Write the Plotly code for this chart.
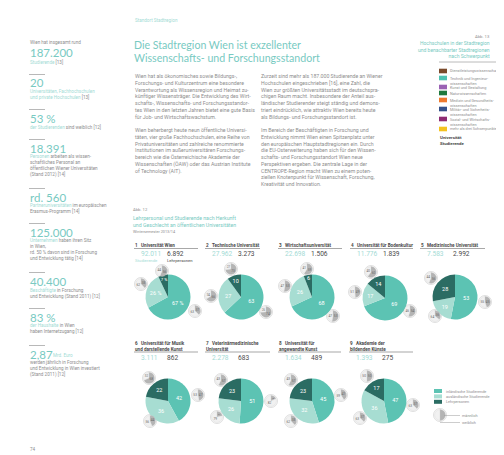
import plotly.graph_objects as go

W, H = 504, 455

# ---- data read from the page ----
uni_nr = ["1", "2", "3", "4", "5", "6", "7", "8", "9"]
uni_names = ["Universität Wien", "Technische Universität", "Wirtschaftsuniversität",
             "Universität für Bodenkultur", "Medizinische Universität",
             "Universität für Musik<br>und darstellende Kunst", "Veterinärmedizinische<br>Universität",
             "Universität für<br>angewandte Kunst", "Akademie der<br>bildenden Künste"]
studierende = ["92.011", "27.962", "22.698", "11.776", "7.583", "3.111", "2.278", "1.634", "1.393"]
lehrpersonen = ["6.892", "3.273", "1.506", "1.839", "2.992", "862", "683", "489", "275"]

slice_names = ["inländische Studierende", "ausländische Studierende", "Lehrpersonen"]
inland = [67, 63, 68, 69, 53, 42, 51, 45, 47]
ausland = [26, 27, 26, 17, 19, 36, 26, 32, 36]
lehr = [7, 10, 6, 14, 28, 22, 23, 23, 17]

gender_names = ["männlich", "weiblich"]
w_inland = [63, 26, 47, 46, 55, 53, 82, 59, 63]
m_inland = [37, 74, 53, 54, 45, 47, 18, 41, 37]
w_ausland = [62, 34, 47, 51, 64, 56, 79, 62, 63]
m_ausland = [38, 66, 53, 49, 36, 44, 21, 38, 37]
w_lehr = [44, 27, 41, 40, 44, 32, 43, 43, 50]
m_lehr = [56, 73, 59, 60, 56, 68, 57, 57, 50]
legend_gender = [50, 50]

stat_blocks = [
    ("Wien hat insgesamt rund", "187.200", "<span style='color:#a3dbd5'>Studierende</span> [13]"),
    (None, "20", "<span style='color:#a3dbd5'>Universitäten, Fachhochschulen<br>und private Hochschulen</span> [13]"),
    (None, "53 %", "<span style='color:#a3dbd5'>der Studierenden</span> sind weiblich [12]"),
    (None, "18.391", "<span style='color:#a3dbd5'>Personen</span> arbeiten als wissen-<br>schaftliches Personal an<br>öffentlichen Wiener Universitäten<br>(Stand 2012) [14]"),
    (None, "rd. 560", "<span style='color:#a3dbd5'>Partneruniversitäten</span> im europäischen<br>Erasmus-Programm [14]"),
    (None, "125.000", "<span style='color:#a3dbd5'>Unternehmen</span> haben ihren Sitz<br>in Wien,<br>rd. 50 % davon sind in Forschung<br>und Entwicklung tätig [14]"),
    (None, "40.400", "<span style='color:#a3dbd5'>Beschäftigte</span> in Forschung<br>und Entwicklung (Stand 2011) [12]"),
    (None, "83 %", "<span style='color:#a3dbd5'>der Haushalte</span> in Wien<br>haben Internetzugang [12]"),
    (None, "2,87", "werden jährlich in Forschung<br>und Entwicklung in Wien investiert<br>(Stand 2011) [12]"),
]

schwerpunkte = ["Dienstleistungswissenschaften", "Technik und Ingenieur-<br>wissenschaften",
                "Kunst und Gestaltung", "Naturwissenschaften", "Medizin und Gesundheits-<br>wissenschaften",
                "Militär- und Sicherheits-<br>wissenschaften", "Sozial- und Wirtschafts-<br>wissenschaften",
                "mehr als drei Schwerpunkte"]
schwerpunkt_colors = ["#7a4a2b", "#4fc2b2", "#9a62b4", "#1f7a3e", "#ee7a2e", "#34508a", "#8e2b72", "#f4c21f"]

headline = ["Die Stadtregion Wien ist exzellenter", "Wissenschafts- und Forschungsstandort"]

text_left = ("Wien hat als ökonomisches sowie Bildungs-,<br>Forschungs- und Kulturzentrum eine besondere<br>"
             "Verantwortung als Wissensregion und Heimat zu-<br>künftiger Wissensträger. Die Entwicklung des Wirt-<br>"
             "schafts-, Wissenschafts- und Forschungsstandor-<br>tes Wien in den letzten Jahren bietet eine gute Basis<br>"
             "für Job- und Wirtschaftswachstum.<br> <br>"
             "Wien beherbergt heute neun öffentliche Universi-<br>täten, vier große Fachhochschulen, eine Reihe von<br>"
             "Privatuniversitäten und zahlreiche renommierte<br>Institutionen im außeruniversitären Forschungs-<br>"
             "bereich wie die Österreichische Akademie der<br>Wissenschaften (ÖAW) oder das Austrian Institute<br>"
             "of Technology (AIT).")
text_right = ("Zurzeit sind mehr als 187.000 Studierende an Wiener<br>Hochschulen eingeschrieben [16], eine Zahl, die<br>"
              "Wien zur größten Universitätsstadt im deutschspra-<br>chigen Raum macht. Insbesondere der Anteil aus-<br>"
              "ländischer Studierender steigt ständig und demons-<br>triert eindrücklich, wie attraktiv Wien bereits heute<br>"
              "als Bildungs- und Forschungsstandort ist.<br> <br>"
              "Im Bereich der Beschäftigten in Forschung und<br>Entwicklung nimmt Wien einen Spitzenplatz unter<br>"
              "den europäischen Hauptstadtregionen ein. Durch<br>die EU-Osterweiterung haben sich für den Wissen-<br>"
              "schafts- und Forschungsstandort Wien neue<br>Perspektiven ergeben. Die zentrale Lage in der<br>"
              "CENTROPE-Region macht Wien zu einem poten-<br>ziellen Knotenpunkt für Wissenschaft, Forschung,<br>"
              "Kreativität und Innovation.")

# ---- layout positions (pixels on the page) ----
pie_xy = [(160, 289), (233, 289), (304, 289), (377, 290), (447, 289),
          (160, 393), (233, 393), (304, 393), (376, 393)]
head_x = [126, 197, 270, 342, 412, 126, 197, 270, 341]
line_end = [190, 252, 334, 405, 477, 190, 262, 333, 405]
small_xy = [  # inland, ausland, lehr
    [(187, 303), (133, 276), (154, 263)],
    [(258, 304), (203, 288), (223, 261)],
    [(325, 308), (277, 278), (299, 261)],
    [(402, 303), (347, 284), (363, 264)],
    [(477, 294), (427, 308), (423, 270)],
    [(190, 387), (142, 413), (141, 370)],
    [(263, 393), (209, 409), (213, 372)],
    [(333, 387), (283, 413), (283, 372)],
    [(405, 397), (352, 410), (359, 368)],
]

TEAL = "#78cac2"
LIGHT = "#a3dbd5"
GREY = "#8e8e8e"
DARK = "#4a4a4a"
PIE_COLORS = ["#5cc3b3", "#a7ddd2", "#2b6c63"]
G_COLORS = ["#b4b4b4", "#f1f1f1"]
FONT = "Roboto"
THIN = "Lato"

def fx(x):
    return x / W

def fy(y):
    return 1 - y / H

def dom(cx, cy, r):
    return dict(x=[fx(cx - r), fx(cx + r)], y=[fy(cy + r), fy(cy - r)])

fig = go.Figure()
shapes = []
ann = []

def text(x, y, s, size, color, anchor="left", valign="middle", bold=False, family=FONT, weight=None):
    if weight is None:
        weight = "bold" if bold else "normal"
    ann.append(dict(x=fx(x), y=fy(y), xref="paper", yref="paper", text=s, showarrow=False,
                    xanchor=anchor, yanchor=valign, align=anchor if anchor != "center" else "center",
                    borderpad=0, font=dict(size=size, color=color, family=family, weight=weight)))

def hline(x0, x1, y, color="#b0b0b0", width=0.8):
    shapes.append(dict(type="line", xref="paper", yref="paper", x0=fx(x0), x1=fx(x1),
                       y0=fy(y), y1=fy(y), line=dict(color=color, width=width)))

# big pies
for i in range(9):
    cx, cy = pie_xy[i]
    vals = [inland[i], ausland[i], lehr[i]]
    tmpl = "%{value} %" if i == 0 else "%{value}"
    fig.add_trace(go.Pie(labels=slice_names, values=vals, sort=False, direction="clockwise",
                         rotation=0, domain=dom(cx, cy, 22.5), texttemplate=tmpl,
                         textposition="inside", insidetextorientation="horizontal",
                         textfont=dict(size=5.5, color="white", family=FONT),
                         marker=dict(colors=PIE_COLORS, line=dict(color="white", width=0)),
                         showlegend=False, hoverinfo="label+value"))
    gvals = [(m_inland[i], w_inland[i]), (m_ausland[i], w_ausland[i]), (m_lehr[i], w_lehr[i])]
    for (sx, sy), (m, w) in zip(small_xy[i], gvals):
        shapes.append(dict(type="circle", xref="paper", yref="paper", x0=fx(sx - 6.5), x1=fx(sx + 6.5),
                           y0=fy(sy + 6.5), y1=fy(sy - 6.5), fillcolor="white",
                           line=dict(color="#c9c9c9", width=0.6), layer="below"))
        fig.add_trace(go.Pie(labels=gender_names, values=[m, w], sort=False, direction="clockwise",
                             rotation=0, domain=dom(sx, sy, 5.5), textinfo="value",
                             textposition="inside", insidetextorientation="horizontal",
                             textfont=dict(size=3.2, color="#666666", family=FONT),
                             marker=dict(colors=G_COLORS, line=dict(color="#c9c9c9", width=0.3)),
                             showlegend=False, hoverinfo="label+value"))

    # header, underline, numbers
    if "<br>" in uni_names[i]:
        text(head_x[i], 331.5, uni_nr[i] + "   " + uni_names[i], 4.6, DARK, valign="top", bold=True)
    else:
        text(head_x[i], 237, uni_nr[i] + "   " + uni_names[i], 4.6, DARK, bold=True)
    ly = 240.5 if i < 5 else 344
    hline(head_x[i], line_end[i], ly, color="#a8a8a8", width=1.1)
    ny = 245.5 if i < 5 else 349.5
    text(head_x[i] + 6, ny, studierende[i], 6.6, LIGHT)
    text(head_x[i] + 32, ny, lehrpersonen[i], 6.6, DARK)

text(126, 252, "Studierende", 4.2, LIGHT)
text(158, 252, "Lehrpersonen", 4.2, DARK)

# pie legend
for k, (c, n) in enumerate(zip(PIE_COLORS, slice_names)):
    yy = 383 + 5.4 * k
    shapes.append(dict(type="rect", xref="paper", yref="paper", x0=fx(426), x1=fx(434),
                       y0=fy(yy + 2), y1=fy(yy - 2), fillcolor=c, line=dict(width=0)))
    text(437, yy, n, 3.8, GREY)
shapes.append(dict(type="circle", xref="paper", yref="paper", x0=fx(432 - 6.5), x1=fx(432 + 6.5),
                   y0=fy(407 + 6.5), y1=fy(407 - 6.5), fillcolor="white",
                   line=dict(color="#c9c9c9", width=0.6), layer="below"))
fig.add_trace(go.Pie(labels=gender_names, values=legend_gender, sort=False, direction="clockwise",
                     domain=dom(432, 407, 5.5), textinfo="none",
                     marker=dict(colors=G_COLORS, line=dict(color="#c9c9c9", width=0.3)),
                     showlegend=False, hoverinfo="label"))
hline(436, 452, 407.5, color="#9a9a9a", width=0.5)
hline(432, 452, 414.5, color="#9a9a9a", width=0.5)
text(453, 407.5, "männlich", 3.8, GREY)
text(453, 414.5, "weiblich", 3.8, GREY)

# left stats column
lead_y = [44.5, 75, 110, 140, 189, 224, 273, 309, 346]
text(21, 35, stat_blocks[0][0], 4.6, GREY)
for k, (pre, big, sub) in enumerate(stat_blocks):
    y = lead_y[k]
    if k > 0:
        hline(21, 37, y - 8.5, color="#9a9a9a", width=0.7)
    text(20.5, y, big, 11.5, TEAL, family=THIN, weight=400)
    if big == "2,87":
        text(44, y + 1.5, "Mrd. Euro", 4.6, LIGHT)
    text(21, y + 5.3, sub, 4.6, GREY, valign="top")
text(21, 441, "74", 4.6, GREY)

# headline + body
text(125.5, 12, "Standort Stadtregion", 4.6, LIGHT)
text(125, 37, headline[0], 10.6, TEAL, family=THIN, weight=400)
text(125, 50, headline[1], 10.6, TEAL, family=THIN, weight=400)
text(126, 63.6, text_left, 5.2, GREY, valign="top")
text(252, 63.6, text_right, 5.2, GREY, valign="top")

# Abb. 12 caption
text(124, 201, "Abb. 12", 4.2, GREY)
text(124, 206.5, "Lehrpersonal und Studierende nach Herkunft<br>und Geschlecht an öffentlichen Universitäten", 5.2, TEAL, valign="top")
text(124, 223.5, "Wintersemester 2013/14", 3.8, GREY)

# Abb. 13 legend
text(483, 29, "Abb. 13", 4.2, GREY, anchor="right")
text(483, 31.5, "Hochschulen in der Stadtregion<br>und benachbarter Stadtregionen<br>nach Schwerpunkt", 5.0, TEAL,
     anchor="right", valign="top")
hline(431, 504, 54, color="#a8a8a8", width=0.8)
sp_y = [63, 70, 79, 85, 92, 101, 111, 121]
for c, n, yy in zip(schwerpunkt_colors, schwerpunkte, sp_y):
    shapes.append(dict(type="rect", xref="paper", yref="paper", x0=fx(431), x1=fx(439),
                       y0=fy(yy + 2.3), y1=fy(yy - 2.3), fillcolor=c, line=dict(width=0)))
    two = "<br>" in n
    text(441, yy - 2.6 if two else yy, n, 3.8, GREY, valign="top" if two else "middle")
text(431, 126, "Universität<br>Studierende", 4.4, DARK, valign="top", bold=True)

fig.update_layout(width=W, height=H, margin=dict(l=0, r=0, t=0, b=0),
                  paper_bgcolor="white", plot_bgcolor="white",
                  shapes=shapes, annotations=ann, showlegend=False,
                  font=dict(family=FONT))
fig.write_html("out.html")
